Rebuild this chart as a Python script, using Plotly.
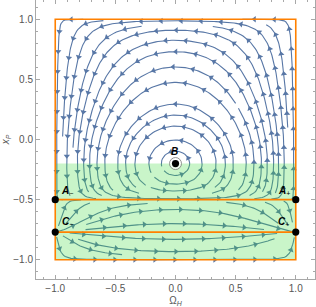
import math
from collections import defaultdict
import plotly.graph_objects as go

# ---------------- data ----------------
x_B = -0.2          # centre B (Omega_H = 0)
x_A = -0.5          # saddles A-, A+
x_C = -0.77         # nodes C-, C+
lam_top = 1.5       # x_P-strength in the upper part of the square
lam_low = 13.5      # x_P-strength in the lower bands
lam_mid = -0.32
lam_wid = 0.1
point_names = ["<b><i>A</i></b><sub>−</sub>", "<b><i>A</i></b><sub>+</sub>",
               "<b><i>C</i></b><sub>−</sub>", "<b><i>C</i></b><sub>+</sub>"]
point_omega = [-1.0, 1.0, -1.0, 1.0]
point_x = [-0.5, -0.5, -0.77, -0.77]
center_name = "<b><i>B</i></b>"
center_omega = 0.0
center_x = -0.2
green_band = [-1.0, -0.2]
orange_levels = [-0.5, -0.77]
box = [-1.0, 1.0]
tick_vals = [-1.0, -0.5, 0.0, 0.5, 1.0]

LINE_COL = "#5877a6"
ORANGE = "rgb(255,128,0)"


def field(om, x):
    lam = lam_top + lam_low / (1 + math.exp((x - lam_mid) / lam_wid))
    fo = -(1 - om * om) * (x - x_B)
    fx = lam * om * (1 - x * x) * (x - x_A) * (x - x_C)
    return fo, fx


# ------------- evenly spaced streamlines (screen space) -------------
S = 120.3
W = 2 * S
dsep = 11.0
dtest = 0.45 * dsep
h = 1.0
K = 20
maxsteps = 2500
cell = dsep
grid = defaultdict(list)


def key(p):
    return (int(p[0] // cell), int(p[1] // cell))


def too_close(p, d, lid, idx):
    kx, ky = key(p)
    d2 = d * d
    for i in (kx - 1, kx, kx + 1):
        for j in (ky - 1, ky, ky + 1):
            for (qx, qy, ql, qi) in grid.get((i, j), ()):
                if (qx - p[0]) ** 2 + (qy - p[1]) ** 2 < d2:
                    if ql != lid or abs(qi - idx) > K:
                        return True
    return False


def dirf(p):
    fo, fx = field(p[0] / S - 1, p[1] / S - 1)
    return fo, fx, math.hypot(fo, fx)


def step(p, sgn):
    fo, fx, n = dirf(p)
    if n < 1e-7:
        return None
    m = (p[0] + 0.5 * h * sgn * fo / n, p[1] + 0.5 * h * sgn * fx / n)
    fo2, fx2, n2 = dirf(m)
    if n2 < 1e-7:
        return None
    if (fo * fo2 + fx * fx2) < 0:
        return None
    return (p[0] + h * sgn * fo2 / n2, p[1] + h * sgn * fx2 / n2)


def trace(seed, lid):
    added = []
    grid[key(seed)].append((seed[0], seed[1], lid, 0))
    added.append(key(seed))
    halves = []
    for sgn in (1, -1):
        pts = []
        p = seed
        idx = 0
        for _ in range(maxsteps):
            q = step(p, sgn)
            if q is None:
                break
            if not (0 <= q[0] <= W and 0 <= q[1] <= W):
                break
            idx += 1
            if too_close(q, dtest, lid, sgn * idx):
                break
            pts.append(q)
            k = key(q)
            grid[k].append((q[0], q[1], lid, sgn * idx))
            added.append(k)
            p = q
        halves.append(pts)
    line = list(reversed(halves[1])) + [seed] + halves[0]
    if len(line) * h < 12:
        for k in set(added):
            grid[k] = [t for t in grid[k] if t[2] != lid]
        return None
    return line


lines = []
queue = []
lid = 0


def try_seed(p):
    global lid
    m = 1.5
    if not (m < p[0] < W - m and m < p[1] < W - m):
        return
    if too_close(p, dsep, -1, 0):
        return
    ln = trace(p, lid)
    lid += 1
    if ln is not None:
        lines.append(ln)
        queue.append(ln)


try_seed(((0.5 + 1) * S, (0.3 + 1) * S))
while True:
    while queue:
        ln = queue.pop(0)
        for i in range(0, len(ln) - 1, 3):
            a = ln[i]
            b = ln[i + 1]
            tx, ty = b[0] - a[0], b[1] - a[1]
            n = math.hypot(tx, ty) or 1
            nx, ny = -ty / n, tx / n
            for s in (1, -1):
                try_seed((a[0] + s * dsep * nx, a[1] + s * dsep * ny))
    before = len(lines)
    gy = 3.0
    while gy < W:
        gx = 3.0
        while gx < W:
            try_seed((gx, gy))
            gx += dsep / 2
        gy += dsep / 2
    if len(lines) == before and not queue:
        break

# ------------- build traces -------------
lx, ly = [], []
ax, ay, aang = [], [], []
spacing = 20.0
for ln in lines:
    pts = ln[::2] + ([ln[-1]] if (len(ln) - 1) % 2 else [])
    for p in pts:
        lx.append(p[0] / S - 1)
        ly.append(p[1] / S - 1)
    lx.append(None)
    ly.append(None)
    L = (len(ln) - 1) * h
    if L < 8:
        continue
    off = (L % spacing) / 2 + (spacing / 2 if L > spacing else 0)
    if L <= spacing:
        off = L / 2
    s = off
    while s < L:
        i = int(s / h)
        i = min(max(i, 1), len(ln) - 2)
        a, b = ln[i - 1], ln[i + 1]
        ang = math.degrees(math.atan2(b[0] - a[0], b[1] - a[1]))
        ax.append(ln[i][0] / S - 1)
        ay.append(ln[i][1] / S - 1)
        aang.append(ang)
        s += spacing

fig = go.Figure()
fig.add_trace(go.Scatter(x=lx, y=ly, mode="lines",
                         line=dict(color=LINE_COL, width=1.1),
                         hoverinfo="skip", showlegend=False))
fig.add_trace(go.Scatter(x=ax, y=ay, mode="markers",
                         marker=dict(symbol="triangle-up", size=5.5, angle=aang,
                                     color=LINE_COL, line=dict(width=0)),
                         hoverinfo="skip", showlegend=False))

shapes = []
shapes.append(dict(type="rect", x0=box[0], x1=box[1], y0=green_band[0], y1=green_band[1],
                   fillcolor="rgba(60,220,60,0.28)", line=dict(width=0), layer="above"))
for lv in orange_levels:
    shapes.append(dict(type="line", x0=box[0], x1=box[1], y0=lv, y1=lv,
                       line=dict(color=ORANGE, width=1.6), layer="above"))
shapes.append(dict(type="rect", x0=box[0], x1=box[1], y0=box[0], y1=box[1],
                   line=dict(color=ORANGE, width=1.6), layer="above"))
for om, xv in zip(point_omega, point_x):
    shapes.append(dict(type="circle", xref="x", yref="y", xsizemode="pixel", ysizemode="pixel",
                       xanchor=om, yanchor=xv, x0=-3.6, x1=3.6, y0=-3.6, y1=3.6,
                       fillcolor="black", line=dict(width=0), layer="above"))
shapes.append(dict(type="circle", xref="x", yref="y", xsizemode="pixel", ysizemode="pixel",
                   xanchor=center_omega, yanchor=center_x, x0=-6, x1=6, y0=-6, y1=6,
                   fillcolor="rgba(255,255,255,0.7)", line=dict(color="#777", width=0.8),
                   layer="above"))
shapes.append(dict(type="circle", xref="x", yref="y", xsizemode="pixel", ysizemode="pixel",
                   xanchor=center_omega, yanchor=center_x, x0=-3.6, x1=3.6, y0=-3.6, y1=3.6,
                   fillcolor="black", line=dict(width=0), layer="above"))

annotations = []
offsets = [(12, -9), (-12, -9), (12, -10), (-12, -10)]
for name, om, xv, (dx, dy) in zip(point_names, point_omega, point_x, offsets):
    annotations.append(dict(x=om, y=xv, text=name, showarrow=False, xshift=dx, yshift=-dy,
                            font=dict(size=10, color="black", family="Liberation Sans")))
annotations.append(dict(x=center_omega, y=center_x, text=center_name, showarrow=False,
                        xshift=-1, yshift=12,
                        font=dict(size=10, color="black", family="Liberation Sans")))

axis_common = dict(range=[-1.16, 1.16], showgrid=False, zeroline=False, showline=True,
                   linecolor="#a8a8a8", linewidth=1, mirror="ticks", ticks="inside",
                   ticklen=4, tickcolor="#a8a8a8", tickmode="array", tickvals=tick_vals,
                   tickformat=".1f", tickfont=dict(size=10, color="#555", family="Liberation Sans"),
                   minor=dict(ticks="inside", ticklen=2, dtick=0.1, tick0=0, tickcolor="#a8a8a8"),
                   automargin=False)

fig.update_layout(
    width=316, height=307,
    margin=dict(l=36, r=1, t=0, b=28),
    paper_bgcolor="white", plot_bgcolor="white",
    shapes=shapes, annotations=annotations,
    xaxis=dict(**axis_common, title=dict(text="Ω<sub><i>H</i></sub>", standoff=3,
                                         font=dict(size=10, color="#555", family="Liberation Sans"))),
    yaxis=dict(**axis_common, title=dict(text="<i>x</i><sub><i>P</i></sub>", standoff=4,
                                         font=dict(size=10, color="#555", family="Liberation Sans"))),
)
fig.write_html("out.html", config={"displayModeBar": False},
               post_script="document.body.style.margin='0px';document.body.style.overflow='hidden';")
